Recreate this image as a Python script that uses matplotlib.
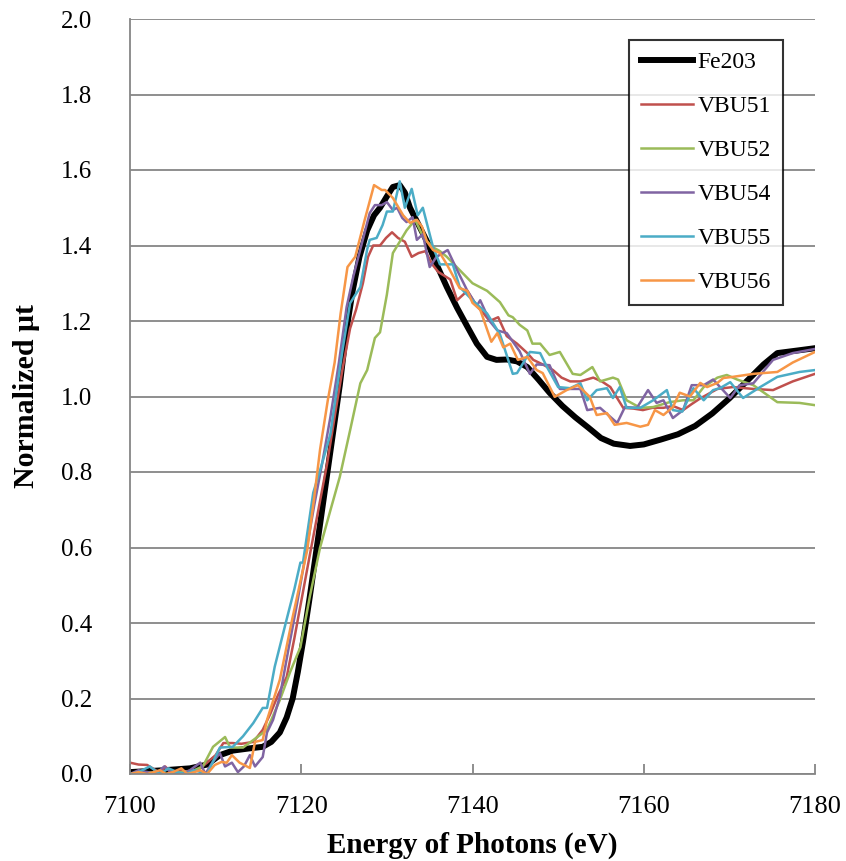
import matplotlib
matplotlib.use("Agg")
import matplotlib.pyplot as plt

# Fe2O3 reference (thick black)
fe_e = [7100, 7104, 7107, 7109, 7110.5, 7112, 7114, 7115.5, 7116.5, 7117.5, 7118.3, 7119, 7119.6,
        7120.2, 7121, 7122, 7123, 7124, 7124.5, 7125.3, 7126, 7126.8, 7127.7, 7128.5, 7129.2, 7130,
        7130.7, 7131.5, 7132.1, 7132.7, 7133.7, 7134.7, 7135.8, 7137, 7138.2, 7139.4, 7140.5, 7141.7,
        7142.8, 7144, 7145.2, 7146.4, 7147.7, 7149, 7150.5, 7152, 7153.5, 7155, 7156.5, 7158.4, 7160,
        7162, 7164, 7166, 7168, 7170, 7172, 7174, 7175.6, 7178, 7180]
fe_mu = [0.005, 0.01, 0.015, 0.025, 0.05, 0.062, 0.068, 0.072, 0.085, 0.11, 0.15, 0.2, 0.27,
         0.35, 0.47, 0.63, 0.79, 0.95, 1.03, 1.18, 1.28, 1.37, 1.44, 1.48, 1.50, 1.53,
         1.555, 1.56, 1.54, 1.50, 1.455, 1.41, 1.35, 1.29, 1.235, 1.185, 1.14, 1.105,
         1.097, 1.098, 1.093, 1.078, 1.045, 1.01, 0.975, 0.945, 0.918, 0.89, 0.875, 0.869, 0.873,
         0.886, 0.90, 0.922, 0.955, 0.995, 1.04, 1.085, 1.115, 1.122, 1.128]

vbu51_e = [7100, 7101, 7102, 7103, 7103.5, 7104.1, 7105, 7106, 7107, 7108, 7109, 7110, 7110.9, 7112,
           7113, 7114.4, 7115.5, 7116.4, 7117.3, 7118.3, 7119.2, 7120.1, 7121, 7122, 7123, 7124,
           7124.8, 7125.7, 7126.4, 7127.2, 7127.8, 7128.4, 7129.2, 7129.9, 7130.6, 7131.3, 7132.1,
           7132.9, 7133.7, 7134.5, 7135.3, 7136, 7137.4, 7138.2, 7139.4, 7140.5, 7141.3, 7142, 7143,
           7144, 7145.2, 7146.4, 7147.1, 7148.2, 7149.4, 7150.4, 7151.4, 7152.6, 7154.1, 7155.1,
           7156.1, 7157.6, 7158.8, 7159.9, 7161, 7162.3, 7163.4, 7164.6, 7165.6, 7166.6, 7168.6,
           7170.4, 7172.8, 7175.1, 7177.4, 7180]
vbu51_mu = [0.03, 0.025, 0.024, 0.01, 0.0, 0.02, 0.0, 0.008, 0.005, 0.012, 0.03, 0.05, 0.082, 0.082,
            0.08, 0.085, 0.117, 0.16, 0.21, 0.257, 0.36, 0.47, 0.58, 0.70, 0.82, 0.96,
            1.07, 1.18, 1.23, 1.30, 1.37, 1.40, 1.40, 1.42, 1.435, 1.42, 1.41,
            1.37, 1.38, 1.385, 1.35, 1.33, 1.31, 1.255, 1.28, 1.24, 1.22, 1.20, 1.21,
            1.16, 1.14, 1.115, 1.097, 1.085, 1.07, 1.05, 1.04, 1.04, 1.05, 1.04,
            1.025, 0.97, 0.968, 0.964, 0.97, 0.97, 0.975, 0.964, 0.98, 0.995, 1.02,
            1.025, 1.02, 1.017, 1.04, 1.06]

vbu52_e = [7100, 7102, 7104, 7106, 7107.5, 7108.5, 7109.7, 7111.1, 7111.7, 7113.2, 7114.4, 7116,
           7117.5, 7118.7, 7119.9, 7121, 7122.2, 7123.3, 7124.5, 7125.7, 7126.9, 7127.7, 7128.6,
           7129.2, 7130, 7130.7, 7131.5, 7132.3, 7133.3, 7134.3, 7135.4, 7136.2, 7137, 7138.5, 7140,
           7141.7, 7143.2, 7144.2, 7144.7, 7145.5, 7146.4, 7147, 7147.9, 7149, 7150.2, 7151.7, 7152.6,
           7154, 7154.9, 7156.4, 7157, 7158, 7159.6, 7161.1, 7163, 7164.6, 7165.8, 7167, 7168.6,
           7169.7, 7170.9, 7172.8, 7175.6, 7178.2, 7180]
vbu52_mu = [0.0, 0.005, 0.0, 0.005, 0.01, 0.02, 0.072, 0.098, 0.07, 0.07, 0.09, 0.117,
            0.196, 0.27, 0.336, 0.47, 0.60, 0.69, 0.787, 0.91, 1.035, 1.07, 1.155,
            1.17, 1.27, 1.38, 1.41, 1.44, 1.468, 1.42, 1.395, 1.385, 1.37, 1.335, 1.30,
            1.28, 1.25, 1.215, 1.21, 1.19, 1.175, 1.14, 1.14, 1.11, 1.118, 1.06, 1.057,
            1.078, 1.04, 1.05, 1.045, 0.99, 0.97, 0.972, 0.985, 0.99, 0.99, 1.025, 1.05,
            1.057, 1.045, 1.03, 0.985, 0.983, 0.977]

vbu54_e = [7100, 7101, 7102, 7103, 7104, 7105, 7106, 7107, 7108.2, 7108.8, 7109.6, 7110.5, 7111.1,
           7111.9, 7112.6, 7113.3, 7114, 7114.6, 7115.5, 7116, 7116.7, 7117.5, 7118.5, 7119.5,
           7120.5, 7121.5, 7122.5, 7123.4, 7124.4, 7125.3, 7126.1, 7126.9, 7128, 7128.6, 7129.4,
           7130, 7130.7, 7131.2, 7131.8, 7132.3, 7133, 7133.5, 7134.2, 7135, 7135.8, 7137.1, 7138.2,
           7139.4, 7140.5, 7140.9, 7142, 7142.9, 7144, 7145.5, 7146.7, 7147.5, 7149, 7150.2, 7152.6,
           7153.4, 7154.9, 7156.9, 7157.8, 7159.2, 7160.5, 7161.5, 7162.3, 7163.4, 7164.6, 7165.6,
           7167, 7168.1, 7170.1, 7171.2, 7172.8, 7175.1, 7177.4, 7180]
vbu54_mu = [0.0, 0.01, 0.005, 0.0, 0.02, 0.0, 0.0, 0.01, 0.03, 0.0, 0.03, 0.055, 0.02,
            0.03, 0.005, 0.02, 0.05, 0.02, 0.045, 0.11, 0.143, 0.205, 0.33, 0.45,
            0.58, 0.71, 0.83, 0.945, 1.09, 1.237, 1.32, 1.39, 1.486, 1.507, 1.507,
            1.515, 1.494, 1.50, 1.473, 1.462, 1.475, 1.415, 1.43, 1.343, 1.37, 1.388, 1.335,
            1.28, 1.24, 1.255, 1.20, 1.175, 1.168, 1.12, 1.06, 1.085, 1.083, 1.02, 1.02,
            0.964, 0.97, 0.93, 0.972, 0.97, 1.017, 0.983, 0.99, 0.943, 0.964, 1.03,
            1.03, 1.045, 0.996, 1.03, 1.035, 1.097, 1.115, 1.126]

vbu55_e = [7100, 7101, 7102.3, 7103.5, 7104.5, 7105.5, 7106.5, 7107.5, 7109, 7110.5, 7112, 7113.2,
           7114.4, 7115.5, 7116, 7116.9, 7118.3, 7119.2, 7119.9, 7120.2, 7121.4, 7122.4, 7123.4,
           7124.8, 7125.7, 7126.9, 7127.7, 7128, 7128.8, 7129.5, 7130, 7130.7, 7131.5, 7132.1,
           7132.9, 7133.6, 7134.2, 7135.4, 7136.2, 7137.7, 7138.5, 7140, 7141.7, 7143.2, 7144.7,
           7145.2, 7146.7, 7147.9, 7148.7, 7150, 7151.4, 7152.6, 7153.4, 7154.5, 7155.7, 7156.4,
           7157.2, 7158, 7159.6, 7161.1, 7162.7, 7163.4, 7164.5, 7165.8, 7167, 7168.1, 7168.9,
           7170.1, 7171.6, 7173.6, 7175.6, 7178.2, 7180]
vbu55_mu = [0.0, 0.005, 0.02, 0.0, 0.015, 0.005, 0.0, 0.01, 0.0, 0.07, 0.072, 0.10,
            0.135, 0.175, 0.175, 0.284, 0.41, 0.49, 0.56, 0.56, 0.745, 0.82, 0.90,
            1.12, 1.247, 1.29, 1.39, 1.415, 1.42, 1.454, 1.49, 1.49, 1.57, 1.50,
            1.55, 1.48, 1.50, 1.395, 1.35, 1.35, 1.29, 1.255, 1.22, 1.165, 1.06,
            1.062, 1.118, 1.115, 1.078, 1.025, 1.022, 1.035, 0.99, 1.017, 1.022, 0.996,
            1.025, 0.97, 0.97, 0.99, 1.017, 0.964, 0.96, 1.022, 0.99, 1.017, 1.022,
            1.038, 0.996, 1.025, 1.052, 1.065, 1.07]

vbu56_e = [7100, 7101, 7102, 7103.5, 7104.2, 7105, 7106, 7106.7, 7107.5, 7108.2, 7109, 7109.9,
           7110.7, 7111.3, 7111.9, 7112.8, 7114, 7114.6, 7115.5, 7116, 7117.5, 7119, 7120.7, 7121.5,
           7122.2, 7123.1, 7123.9, 7124.6, 7125.4, 7126.3, 7127.4, 7128.5, 7129.4, 7129.8, 7130.7,
           7131.9, 7132.7, 7133.5, 7134.1, 7134.7, 7135.4, 7136.2, 7137, 7138.5, 7139.4, 7140,
           7140.9, 7142.2, 7142.9, 7143.6, 7144.4, 7145.3, 7146.4, 7147.5, 7148.2, 7149.6, 7151,
           7152.3, 7153.7, 7154.5, 7155.7, 7156.6, 7158, 7159.6, 7160.5, 7161.3, 7162.3, 7163.4,
           7164.2, 7165.4, 7166.6, 7167.4, 7168.6, 7169.3, 7170.4, 7172.8, 7175.6, 7177.4, 7180]
vbu56_mu = [0.0, 0.005, 0.0, 0.01, 0.0, 0.005, 0.015, 0.0, 0.005, 0.01, 0.0, 0.024,
            0.032, 0.03, 0.05, 0.03, 0.016, 0.085, 0.09, 0.143, 0.25, 0.416, 0.593, 0.73,
            0.86, 0.99, 1.09, 1.22, 1.343, 1.37, 1.467, 1.56, 1.547, 1.547, 1.526,
            1.48, 1.46, 1.468, 1.45, 1.41, 1.388, 1.38, 1.35, 1.287, 1.28, 1.248,
            1.23, 1.145, 1.168, 1.13, 1.14, 1.097, 1.105, 1.07, 1.062, 0.999, 1.017,
            1.03, 0.999, 0.951, 0.956, 0.925, 0.93, 0.92, 0.925, 0.964, 0.951, 0.972,
            1.01, 1.0, 1.036, 1.025, 1.036, 1.049, 1.052, 1.06, 1.065, 1.09, 1.118]

series = [
    ("Fe203", fe_e, fe_mu, "#000000", 4.3),
    ("VBU51", vbu51_e, vbu51_mu, "#C0504D", 1.8),
    ("VBU52", vbu52_e, vbu52_mu, "#9BBB59", 1.8),
    ("VBU54", vbu54_e, vbu54_mu, "#8064A2", 1.8),
    ("VBU55", vbu55_e, vbu55_mu, "#4BACC6", 1.8),
    ("VBU56", vbu56_e, vbu56_mu, "#F79646", 1.8),
]

x_ticks = [7100, 7120, 7140, 7160, 7180]
y_ticks = [0.0, 0.2, 0.4, 0.6, 0.8, 1.0, 1.2, 1.4, 1.6, 1.8, 2.0]

plt.rcParams['font.family'] = ['Liberation Serif', 'DejaVu Serif']

fig = plt.figure(figsize=(8.46, 8.61), dpi=100)
ax = fig.add_axes([130 / 846, 87 / 861, 685 / 846, 755 / 861])

for name, e, mu, color, lw in series:
    ax.plot(e, mu, color=color, lw=lw, label=name, solid_joinstyle='round')

ax.set_xlim(7100, 7180)
ax.set_ylim(0, 2.0)
ax.set_xticks(x_ticks)
ax.set_yticks(y_ticks)
ax.set_yticklabels([f"{v:.1f}" for v in y_ticks])

# horizontal gridlines only
ax.yaxis.grid(True, color='#868686', lw=1.3)
ax.set_axisbelow(True)
for s in ['top', 'right']:
    ax.spines[s].set_visible(False)
for s in ['left', 'bottom']:
    ax.spines[s].set_color('#868686')
    ax.spines[s].set_linewidth(1.3)

ax.tick_params(axis='x', direction='in', length=7, width=1.3, color='#868686',
               labelsize=19, pad=16)
ax.tick_params(axis='y', length=0, labelsize=18, pad=27)

ax.set_xlabel("Energy of Photons (eV)", fontsize=21, fontweight='bold')
ax.xaxis.set_label_coords(0.5, -0.076)
ax.set_ylabel("Normalized μt", fontsize=21.5, fontweight='bold')
ax.yaxis.set_label_coords(-0.131, 0.5)

leg = ax.legend(loc='upper right', bbox_to_anchor=(0.9533, 0.9722), borderaxespad=0,
                fontsize=17, frameon=True, fancybox=False, edgecolor='black',
                handlelength=2.2, handletextpad=0.2, labelspacing=0.95, borderpad=0.5)
leg.get_frame().set_linewidth(1.5)

fig.savefig("out.png", dpi=100)
